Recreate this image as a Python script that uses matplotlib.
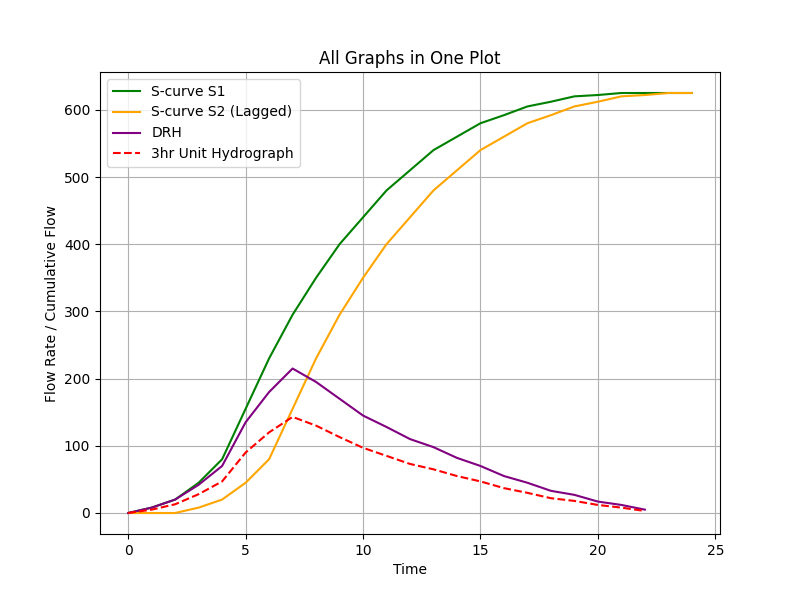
import matplotlib
matplotlib.use('Agg')
import matplotlib.pyplot as plt

# S-curves
t_s = list(range(25))
s1 = [0, 8, 20, 45, 80, 155, 230, 295, 350, 400, 440, 480, 510, 540, 560, 580,
      592, 605, 612, 620, 622, 625, 625, 625, 625]
s2 = [0, 0, 0, 8, 20, 45, 80, 155, 230, 295, 350, 400, 440, 480, 510, 540,
      560, 580, 592, 605, 612, 620, 622, 625, 625]

# DRH and unit hydrograph
t_h = list(range(23))
drh = [0, 8, 20, 42, 70, 135, 180, 215, 195, 170, 145, 128, 110, 98, 82, 70,
       55, 45, 33, 27, 17, 12, 5]
uh = [0, 5, 13, 28, 47, 90, 120, 143, 130, 113, 97, 85, 73, 65, 55, 47,
      37, 30, 22, 18, 12, 8, 3]

fig, ax = plt.subplots(figsize=(8, 6), dpi=100)
ax.plot(t_s, s1, color='green', label='S-curve S1')
ax.plot(t_s, s2, color='orange', label='S-curve S2 (Lagged)')
ax.plot(t_h, drh, color='purple', label='DRH')
ax.plot(t_h, uh, color='red', linestyle='--', label='3hr Unit Hydrograph')
ax.set_title('All Graphs in One Plot')
ax.set_xlabel('Time')
ax.set_ylabel('Flow Rate / Cumulative Flow')
ax.grid(True)
ax.legend(loc='upper left')
fig.savefig('out.png')
